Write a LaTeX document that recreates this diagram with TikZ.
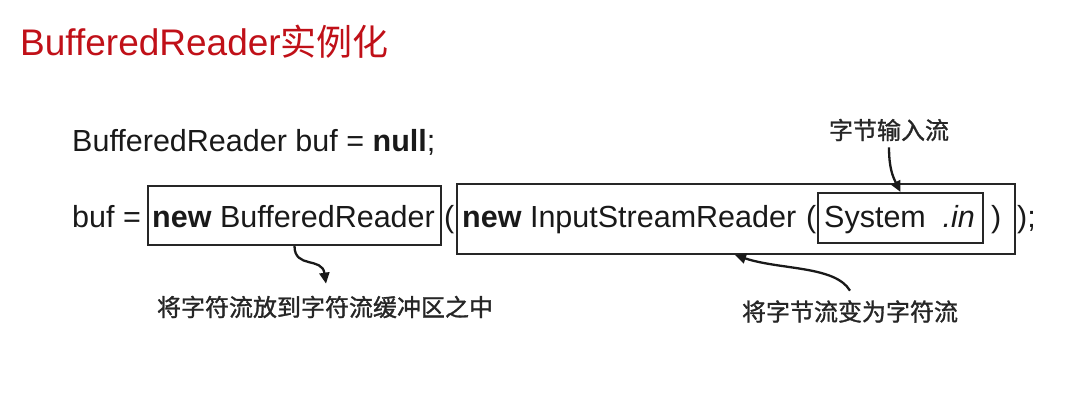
\documentclass[tikz,border=0pt]{standalone}
\usepackage{fontspec}
\setmainfont{Liberation Sans}
\newfontfamily\cjk{Noto Sans CJK SC}
\newfontfamily\cjknote[FakeBold=1.2]{Noto Sans CJK SC}
\usetikzlibrary{arrows.meta,calc}
\definecolor{titlered}{RGB}{192,16,24}
\begin{document}
\begin{tikzpicture}[x=1pt,y=-1pt,
  code/.style={inner sep=0pt, anchor=base west, text=black!90, font=\fontsize{30.5}{36}\selectfont},
  frame/.style={draw=black!85, line width=2pt, inner sep=0pt, anchor=north west},
  note/.style={inner sep=0pt, text=black!85, font=\cjknote\fontsize{24}{28}\selectfont},
  callout/.style={line width=2.3pt, draw=black!90, -{Triangle[length=11pt,width=10pt]}}]
\useasboundingbox (0,0) rectangle (1078,411);
% title
\node[anchor=base west, inner sep=0pt, text=titlered, font=\fontsize{37}{44}\selectfont] (title) at (20,56)
  {BufferedReader{\cjk\fontsize{36}{44}\selectfont 实例化}};
% frames
\node[frame, minimum width=293pt, minimum height=59pt] (b1) at (147,185) {};
\node[frame, minimum width=558pt, minimum height=70pt] (b2) at (456,183) {};
\node[frame, minimum width=165pt, minimum height=50pt] (b3) at (817,192) {};
% code line 1
\node[code] (l1code) at (72,152) {BufferedReader buf = \textbf{null};};
% code line 2
\node[code] (bufeq) at (72,228) {buf =};
\node[code] (nbr) at (152,228) {\textbf{new} BufferedReader};
\node[code] (p1) at (444,228) {(};
\node[code] (nisr) at (462,228) {\textbf{new} InputStreamReader};
\node[code] (p2) at (806,228) {(};
\node[code] (sys) at (824,228) {System};
\node[code, anchor=base east] (in) at (975,228) {\textit{.in}};
\node[code] (p3) at (991,228) {)};
\node[code] (p4) at (1017,228) {);};
% notes
\node[note] (n3) at (889,130) {字节输入流};
\node[note] (n1) at (325,307) {将字符流放到字符流缓冲区之中};
\node[note] (n2) at (850,311.5) {将字节流变为字符流};
% callouts
\draw[callout] (b1.south) .. controls +(0,23) and +(-4,-27) .. ($(n1.north)+(1,-12)$);
\draw[callout] ($(n2.north)+(0,-9.5)$) .. controls +(-15,-25) and +(45,15) .. ($(b2.south west)+(279,0)$);
\draw[callout] ($(n3.south)+(0,6)$) .. controls +(0,20) and +(-8,-16) .. (b3.north);
\end{tikzpicture}
\end{document}
